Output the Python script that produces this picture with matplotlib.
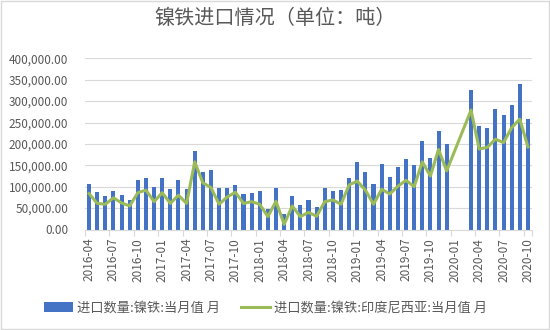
import numpy as np
import pandas as pd
import matplotlib
matplotlib.use("Agg")
import matplotlib.pyplot as plt
from matplotlib.ticker import FuncFormatter, FixedLocator
from matplotlib.patches import Rectangle

plt.rcParams['font.family'] = ['Noto Sans CJK SC', 'DejaVu Sans']

months = [str(p) for p in pd.period_range('2016-04', '2020-10', freq='M')]
nan = np.nan
# 进口数量:镍铁:当月值 (吨)
total_imports = [107000, 87000, 78000, 90000, 80000, 70000, 115000, 120000, 99000, 120000,
                 95000, 116000, 95000, 183000, 135000, 140000, 98000, 96000, 103000, 83000,
                 85000, 91000, 48000, 96000, 36000, 79000, 58000, 69000, 53000, 98000,
                 89000, 92000, 120000, 158000, 135000, 106000, 152000, 123000, 147000, 165000,
                 151000, 207000, 168000, 230000, 199000, nan, nan, 327000, 241000, 236000,
                 281000, 267000, 291000, 341000, 258000]
# 进口数量:镍铁:印度尼西亚:当月值 (吨)
indonesia_imports = [84000, 61000, 59000, 74000, 62000, 55000, 86000, 92000, 65000, 86000,
                     61000, 80000, 61000, 158000, 109000, 98000, 59000, 76000, 87000, 61000,
                     65000, 59000, 30000, 66000, 12000, 55000, 30000, 40000, 31000, 65000,
                     69000, 59000, 104000, 113000, 92000, 59000, 94000, 83000, 101000, 115000,
                     100000, 158000, 125000, 187000, 137000, nan, nan, 279000, 188000, 192000,
                     211000, 203000, 238000, 258000, 193000]
yticks = [0, 50000, 100000, 150000, 200000, 250000, 300000, 350000, 400000]

title = '镍铁进口情况（单位：吨）'
bar_label = '进口数量:镍铁:当月值 月'
line_label = '进口数量:镍铁:印度尼西亚:当月值 月'

text_color = '#595959'
fig = plt.figure(figsize=(5.5, 3.3), dpi=100)
ax = fig.add_axes([85/550, 1 - 229.5/330, (532-85)/550, (229.5-58.3)/330])

x = np.arange(len(months))
bars_arr = np.array(total_imports, dtype=float)
line_arr = np.array(indonesia_imports, dtype=float)

bar_container = ax.bar(x, bars_arr, width=0.5, color='#4472C4', label=bar_label, zorder=2)
mask = ~np.isnan(line_arr)
line_handle, = ax.plot(x[mask], line_arr[mask], color='#9BBB59', linewidth=2.2, label=line_label,
                       zorder=3, solid_joinstyle='round')

ax.set_xlim(-0.5, len(months) - 0.5)
ax.set_ylim(0, 400000)
ax.set_yticks(yticks)
ax.yaxis.set_major_formatter(FuncFormatter(lambda v, p: f'{v:,.2f}'))
ax.grid(axis='y', color='#d9d9d9', linewidth=0.8, zorder=0)
ax.set_axisbelow(True)

label_idx = list(range(0, len(months), 3))
ax.set_xticks(label_idx)
ax.set_xticklabels([months[i] for i in label_idx], rotation=90)
ax.tick_params(axis='x', length=0, pad=6, labelsize=8.5, labelcolor=text_color)
ax.xaxis.set_minor_locator(FixedLocator([i - 0.5 for i in label_idx] + [len(months) - 0.5]))
ax.tick_params(axis='x', which='minor', length=4, color='#d9d9d9', width=0.8)
ax.tick_params(axis='y', length=0, pad=12, labelsize=8.5, labelcolor=text_color)

for s in ['top', 'right', 'left']:
    ax.spines[s].set_visible(False)
ax.spines['bottom'].set_color('#d9d9d9')
ax.spines['bottom'].set_linewidth(0.8)

fig.text(0.5, 1 - 18/330, title, ha='center', va='center', fontsize=14.5, color=text_color)

fig.legend([bar_container, line_handle], [bar_label, line_label],
           loc='center', bbox_to_anchor=(0.482, 1 - 308/330), ncol=2, frameon=False,
           fontsize=9.5, handlelength=2.2, columnspacing=1.6, handletextpad=0.3,
           labelcolor=text_color)

fig.patches.append(Rectangle((0.002, 0.003), 0.996, 0.994, transform=fig.transFigure,
                             fill=False, edgecolor='#d9d9d9', linewidth=1.0))

fig.savefig('out.png', dpi=100, facecolor='white')
